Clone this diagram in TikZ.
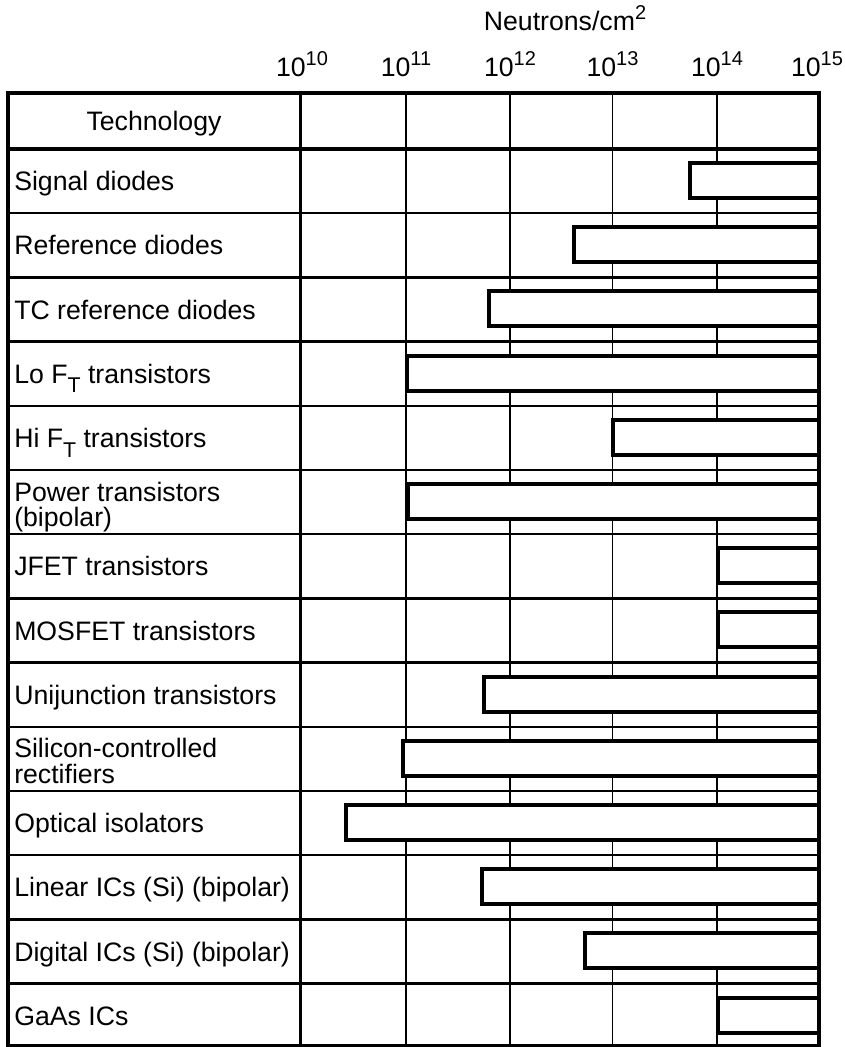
\documentclass[tikz,border=0pt]{standalone}
\usepackage{fontspec}
\setmainfont{Liberation Sans}
\newcommand\upidx[1]{\raisebox{0.4em}{\fontsize{15}{15}\selectfont #1}}
\newcommand\subT{\raisebox{-0.36em}{\fontsize{16}{16}\selectfont T}}
\begin{document}
\begin{tikzpicture}[x=0.75pt,y=-0.75pt,
  txt/.style={inner sep=0pt, font=\fontsize{20}{16.5}\selectfont},
  lbl/.style={txt, anchor=base west},
  barbox/.style={draw=black, fill=white, line width=3pt},
  gridline/.style={line width=1.2pt},
  rowline/.style={line width=1.8pt},
  frameline/.style={line width=2.4pt}]
\useasboundingbox (0,0) rectangle (845,1047);
% vertical grid lines
\foreach \gx in {406,510,612.5,717}
  \draw[gridline] (\gx,93) -- (\gx,1046);
% row separators
\foreach \i in {1,...,13}{
  \pgfmathsetmacro\ry{149+64.2*\i}
  \draw[rowline] (8,\ry) -- (819,\ry);
}
% axis labels
\node[txt, anchor=base] (title) at (565,30) {Neutrons/cm\upidx{2}};
\foreach \gx/\e [count=\k] in {302/10,406/11,510/12,612.5/13,717/14,817/15}
  \node[txt, anchor=base] (tick\k) at (\gx,76) {10\upidx{\e}};
% header
\node[txt, anchor=base] (header) at (154,130.5) {Technology};
% rows
\foreach \i/\bx/\name in {
  0/690/{Signal diodes},
  1/574/{Reference diodes},
  2/489/{TC reference diodes},
  3/407/{Lo F\subT{} transistors},
  4/613/{Hi F\subT{} transistors},
  5/408/{\begin{tabular}[t]{@{}l@{}}Power transistors\\(bipolar)\end{tabular}},
  6/718/{JFET transistors},
  7/718/{MOSFET transistors},
  8/484/{Unijunction transistors},
  9/403/{\begin{tabular}[t]{@{}l@{}}Silicon-controlled\\rectifiers\end{tabular}},
  10/346/{Optical isolators},
  11/482/{Linear ICs (Si) (bipolar)},
  12/585/{Digital ICs (Si) (bipolar)},
  13/718/{GaAs ICs}}{
  \pgfmathsetmacro\rt{149+64.2*\i}
  \ifnum\i=5
    \pgfmathsetmacro\by{\rt+31}
  \else\ifnum\i=9
    \pgfmathsetmacro\by{\rt+31}
  \else
    \pgfmathsetmacro\by{\rt+41.6}
  \fi\fi
  \node[lbl] (lab\i) at (14,\by) {\name};
  \draw[barbox] (\bx,\rt+14) rectangle (819,\rt+49);
}
% frame
\draw[frameline] (8,93) rectangle (819,1046);
\draw[frameline] (300.5,93) -- (300.5,1046);
\draw[frameline] (8,149) -- (819,149);
\end{tikzpicture}
\end{document}
